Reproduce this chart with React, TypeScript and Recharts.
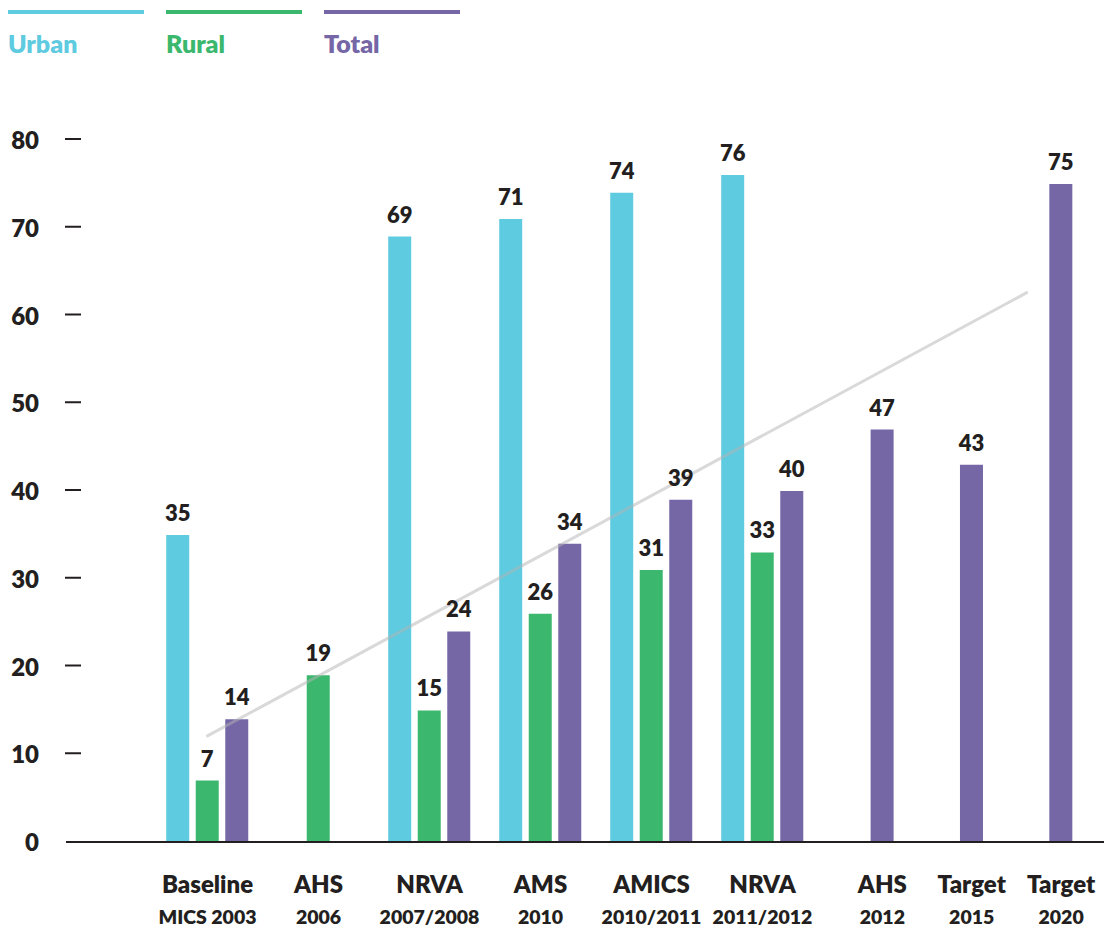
import {
  ComposedChart, Bar, Line, XAxis, YAxis, Cell, LabelList,
} from 'recharts';

const groupNames = ['Baseline', 'AHS', 'NRVA', 'AMS', 'AMICS', 'NRVA', 'AHS', 'Target', 'Target'];
const groupYears = ['MICS 2003', '2006', '2007/2008', '2010', '2010/2011', '2011/2012', '2012', '2015', '2020'];

const urban = [35, null, 69, 71, 74, 76, null, null, null];
const rural = [7, 19, 15, 26, 31, 33, null, null, null];
const total = [14, null, 24, 34, 39, 40, 47, 43, 75];

const yTicks = [0, 10, 20, 30, 40, 50, 60, 70, 80];

// straight trend line: start at the baseline survey, end just before the 2020 target
const trendStartValue = 12.1;
const trendEndValue = 62.6;
const trendEndPosition = 7.38;

const FONT = 'Lato, "Open Sans", sans-serif';
const INK = '#231f20';

const series = [
  { key: 'urban', name: 'Urban', color: '#5ecbe0', values: urban },
  { key: 'rural', name: 'Rural', color: '#3bb86d', values: rural },
  { key: 'total', name: 'Total', color: '#7566a6', values: total },
];

// survey groups sit one unit apart, the trailing single-bar groups are packed tighter
const groupCenter = (i: number) => (i <= 5 ? i : 6.08 + (i - 6) * 0.805);
const BAR_PITCH = 0.266;

type BarRow = { x: number; value: number; color: string };

const barRows: BarRow[] = [];
groupNames.forEach((_, i) => {
  const present = series.filter((s) => s.values[i] != null);
  present.forEach((s, k) => {
    barRows.push({
      x: groupCenter(i) + (k - (present.length - 1) / 2) * BAR_PITCH,
      value: s.values[i] as number,
      color: s.color,
    });
  });
});

const trendRows = [
  { x: groupCenter(0), trend: trendStartValue },
  { x: trendEndPosition, trend: trendEndValue },
];

const groupTicks = groupNames.map((_, i) => groupCenter(i));

function GroupTick({ x, y, index }: any) {
  return (
    <g>
      <text x={x} y={y + 51} textAnchor="middle" fill={INK} fontFamily={FONT} fontWeight={800} fontSize={24}>
        {groupNames[index]}
      </text>
      <text x={x} y={y + 82} textAnchor="middle" fill={INK} fontFamily={FONT} fontWeight={800} fontSize={19.5}>
        {groupYears[index]}
      </text>
    </g>
  );
}

function ValueTick({ x, y, payload }: any) {
  return (
    <g>
      <text x={x - 27} y={y + 9} textAnchor="end" fill={INK} fontFamily={FONT} fontWeight={800} fontSize={24}>
        {payload.value}
      </text>
      {payload.value !== 0 && <line x1={x - 1} x2={x + 15} y1={y - 1} y2={y - 1} stroke={INK} strokeWidth={2} />}
    </g>
  );
}

function SeriesLegend() {
  return (
    <div style={{ position: 'absolute', left: 8, top: 0, display: 'flex', gap: 22 }}>
      {series.map((s) => (
        <div key={s.key} style={{ width: 136 }}>
          <div style={{ height: 4, background: s.color, marginTop: 10 }} />
          <div style={{ color: s.color, fontFamily: FONT, fontWeight: 800, fontSize: 25, lineHeight: '24px', marginTop: 17 }}>
            {s.name}
          </div>
        </div>
      ))}
    </div>
  );
}

export default function App() {
  return (
    <div style={{ position: 'absolute', left: 0, top: 0, width: 1104, height: 928, background: '#fff' }}>
      <SeriesLegend />
      <ComposedChart width={1104} height={928} data={barRows} margin={{ top: 140, right: 0, bottom: 0, left: 0 }}>
        <XAxis
          dataKey="x"
          type="number"
          domain={[-1.2748, 8.0766]}
          allowDataOverflow
          ticks={groupTicks}
          tick={<GroupTick />}
          tickLine={false}
          tickSize={0}
          tickMargin={0}
          height={86}
          axisLine={{ stroke: INK, strokeWidth: 2 }}
        />
        <YAxis
          type="number"
          domain={[0, 80]}
          ticks={yTicks}
          tick={<ValueTick />}
          tickLine={false}
          tickSize={0}
          tickMargin={0}
          axisLine={false}
          width={66}
        />
        <Bar dataKey="value" barSize={23} isAnimationActive={false}>
          {barRows.map((r, i) => (
            <Cell key={i} fill={r.color} />
          ))}
          <LabelList dataKey="value" position="top" offset={14} fill={INK} fontFamily={FONT} fontWeight={800} fontSize={22} />
        </Bar>
        <Line
          data={trendRows}
          dataKey="trend"
          type="linear"
          stroke="#b4b4b4"
          strokeOpacity={0.5}
          strokeWidth={3}
          strokeLinecap="round"
          dot={false}
          activeDot={false}
          isAnimationActive={false}
          legendType="none"
        />
      </ComposedChart>
    </div>
  );
}
